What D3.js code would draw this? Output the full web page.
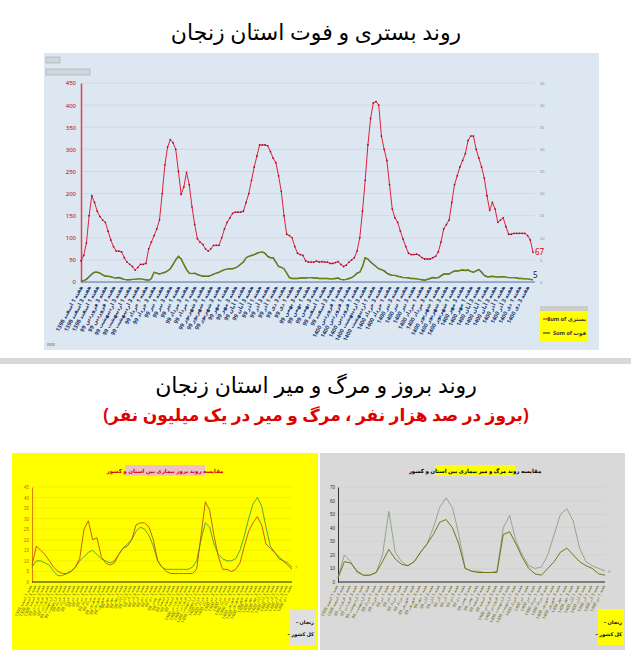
<!DOCTYPE html>
<html><head><meta charset="utf-8">
<script src="https://cdn.jsdelivr.net/npm/d3@7"></script>
<style>body{margin:0;background:#fff}svg{display:block}</style>
</head><body><svg id="c" width="631" height="657"></svg>
<script>
// ---- Top chart data (hospitalised / deaths, weekly) ----
const hosp = [48,60,88,150,195,180,160,148,140,135,
115,95,80,70,70,68,55,45,40,35,
27,33,40,40,42,75,90,105,120,140,
200,265,305,322,315,300,250,198,215,248,
220,170,130,98,90,85,75,70,75,83,
83,83,100,120,135,145,155,158,158,158,
160,180,200,230,260,285,310,310,310,308,
295,280,270,240,205,150,108,105,100,80,
65,62,60,48,45,45,45,47,45,46,
45,45,42,42,44,46,40,35,38,45,
50,55,70,100,160,230,310,370,405,408,
400,330,300,275,220,165,145,135,115,97,
80,65,62,62,63,60,55,52,52,52,
55,58,68,90,120,130,140,180,220,240,
260,275,290,320,330,330,300,280,260,235,
195,162,180,165,135,140,145,125,108,108,
110,110,110,110,110,105,95,67];
const deaths = [2,3,6,12,18,22,22,20,16,13,
13,12,10,9,10,8,6,5,5,6,
6,7,7,6,5,4,8,22,20,18,
20,22,25,30,40,50,58,52,40,28,
20,19,20,17,15,13,13,13,15,18,
20,22,25,28,29,30,30,32,35,40,
45,55,58,60,62,65,67,68,65,58,
55,55,45,35,33,30,20,10,8,8,
8,9,9,9,10,10,9,9,8,8,
8,8,7,7,8,9,6,5,6,8,
10,14,20,22,35,55,52,45,40,35,
30,28,25,20,17,15,15,13,12,10,
10,9,8,8,7,6,5,4,6,8,
10,9,10,14,18,18,18,22,25,25,
26,27,26,27,24,22,25,28,22,15,
12,12,13,12,11,12,12,11,10,10,
10,9,8,8,7,7,6,5];
const leftTicks = [0,50,100,150,200,250,300,350,400,450];
const rightTicks = [0,5,10,15,20,25,30,35,40,45];
const tickMonths = ["اسفند 1398","فروردین 99","اردیبهشت 99","خرداد 99","تیر 99","مرداد 99","شهریور 99","مهر 99","آبان 99","آذر 99","دی 99","بهمن 99","اسفند 99","فروردین 1400","اردیبهشت 1400","خرداد 1400","تیر 1400","مرداد 1400","شهریور 1400","مهر 1400","آبان 1400","آذر 1400","دی 1400"];
const tickWeeks = ["هفته 1","هفته 3"];
const legendTop = ["Sum of بستری","Sum of فوت"];

// ---- Bottom-left: incidence per 100k ----
const incZanjan = [8,17,15,13,10,7,5,4,4,5,7,11,25,29,20,21,12,9,8,9,13,16,17,20,27,28,28,26,20,10,7,5,4,4,4,4,4,4,6,22,38,34,22,12,6,6,5,6,9,17,24,28,31,27,18,16,14,11,10,8,6];
const incIran   = [7,10,10,9,8,5,3,3,4,5,7,10,12,14,15,13,11,10,9,10,13,16,18,20,24,26,25,22,17,10,7,6,6,6,6,6,6,7,10,20,28,26,18,13,11,10,10,11,15,22,30,37,40,36,26,17,14,12,10,9,7];
const incTicks = [0,5,10,15,20,25,30,35,40,45];
// ---- Bottom-right: deaths per 1M ----
const mortA = [3,20,15,7,5,5,7,20,52,22,15,12,15,22,28,40,55,62,55,35,10,8,8,7,7,8,40,49,30,20,12,10,11,20,35,50,54,45,25,15,12,10,8];
const mortB = [3,15,14,8,5,5,7,15,24,17,13,12,15,22,28,35,44,46,40,28,10,8,7,7,7,7,35,37,28,18,10,6,5,10,15,22,25,20,15,12,10,6,5];
const mortTicks = [0,10,20,30,40,50,60,70];
const legendBottom = ["زنجان","کل کشور"];

const svg = d3.select("#c");
const F = "'Noto Sans', 'DejaVu Sans', sans-serif";

svg.append("text").attr("x",316).attr("y",40).attr("text-anchor","middle").attr("font-family",F).attr("font-size",22).text("روند بستری و فوت استان زنجان");
svg.append("rect").attr("x",0).attr("y",358).attr("width",631).attr("height",6).attr("fill","#d8d8d8");
svg.append("text").attr("x",316).attr("y",393).attr("text-anchor","middle").attr("font-family",F).attr("font-size",22).text("روند بروز و مرگ و میر استان زنجان");
svg.append("text").attr("x",316).attr("y",421).attr("text-anchor","middle").attr("font-family",F).attr("font-size",17).attr("font-weight","bold").attr("fill","#e00000").text("(بروز در صد هزار نفر ، مرگ و میر در یک میلیون نفر)");

// ---------- top chart ----------
svg.append("rect").attr("x",44).attr("y",53).attr("width",555).attr("height",297).attr("fill","#dde7f2");
svg.append("rect").attr("x",46).attr("y",57).attr("width",14).attr("height",6).attr("fill","#cfd6de").attr("stroke","#999").attr("stroke-width",0.5);
svg.append("rect").attr("x",46).attr("y",69).attr("width",44).attr("height",6).attr("fill","#cfd6de").attr("stroke","#999").attr("stroke-width",0.5);
const x1 = d3.scaleLinear().domain([0,hosp.length-1]).range([81,533]);
const y1 = d3.scaleLinear().domain([0,450]).range([282,83]);
const yR = d3.scaleLinear().domain([0,45]).range([282,83]);
const g1 = svg.append("g");
g1.selectAll(".gl").data(leftTicks.slice(1)).join("line").attr("x1",81).attr("x2",535).attr("y1",d=>y1(d)).attr("y2",d=>y1(d)).attr("stroke","#c8cfd8").attr("stroke-width",0.6);
const aL = g1.append("g").attr("transform","translate(81,0)").call(d3.axisLeft(y1).tickValues(leftTicks).tickSize(0).tickPadding(5));
aL.select(".domain").attr("stroke","#e04050").attr("stroke-width",1.5);
aL.selectAll("text").attr("fill","#c00000").attr("font-size",6).attr("font-family",F);
const aR = g1.append("g").attr("transform","translate(537,0)").call(d3.axisRight(yR).tickValues(rightTicks).tickSize(0).tickPadding(3));
aR.select(".domain").remove();
aR.selectAll("text").attr("fill","#888").attr("font-size",4);
g1.append("line").attr("x1",81).attr("x2",535).attr("y1",y1(0)).attr("y2",y1(0)).attr("stroke","#4a6fa5").attr("stroke-width",1.2);
const tickIdx = d3.range(0,hosp.length,3);
const xlab = g1.append("g").attr("font-family",F).attr("font-size",5.6).attr("font-weight","bold").attr("fill","#1f3a6e");
xlab.selectAll("text").data(tickIdx).join("text")
  .attr("transform",d=>`translate(${x1(d)+2},${287}) rotate(-62)`).attr("text-anchor","end")
  .text((d,i)=>tickWeeks[i%2]+" "+tickMonths[Math.min(tickMonths.length-1,Math.floor(i*tickMonths.length/tickIdx.length))]);
const line1 = d3.line().x((d,i)=>x1(i)).y(d=>y1(d));
g1.append("path").datum(hosp).attr("d",line1).attr("fill","none").attr("stroke","#e0203a").attr("stroke-width",1);
g1.selectAll(".pr").data(hosp).join("circle").attr("cx",(d,i)=>x1(i)).attr("cy",d=>y1(d)).attr("r",0.9).attr("fill","#a0102a");
g1.append("path").datum(deaths).attr("d",line1).attr("fill","none").attr("stroke","#2d4a10").attr("stroke-width",1.4);
g1.append("path").datum(deaths).attr("d",line1).attr("fill","none").attr("stroke","#c8c800").attr("stroke-width",0.5);
g1.append("text").attr("x",535).attr("y",y1(hosp[hosp.length-1])+3).attr("font-size",8).attr("fill","#e00000").attr("font-family",F).text(hosp[hosp.length-1]);
g1.append("text").attr("x",533).attr("y",y1(deaths[deaths.length-1])-2).attr("font-size",8).attr("fill","#222").attr("font-family",F).text(deaths[deaths.length-1]);
const lg = g1.append("g");
lg.append("rect").attr("x",540).attr("y",306).attr("width",48).attr("height",36).attr("fill","#ffff00");
lg.append("rect").attr("x",540).attr("y",306).attr("width",48).attr("height",5).attr("fill","#cccccc");
lg.selectAll("line").data(legendTop).join("line").attr("x1",543).attr("x2",550).attr("y1",(d,i)=>319+i*14).attr("y2",(d,i)=>319+i*14).attr("stroke",(d,i)=>i?"#2d4a10":"#e0203a").attr("stroke-width",1.2);
lg.selectAll("text").data(legendTop).join("text").attr("x",586).attr("y",(d,i)=>321+i*14).attr("text-anchor","end").attr("font-size",5.5).attr("font-family",F).attr("font-weight","bold").attr("fill","#333").text(d=>d);
svg.append("rect").attr("x",47).attr("y",343).attr("width",8).attr("height",3).attr("fill","#b0b8c0");

// ---------- bottom charts ----------
function small(opts){
  const g = svg.append("g");
  g.append("rect").attr("x",opts.px).attr("y",453).attr("width",opts.pw).attr("height",197).attr("fill",opts.bg);
  g.append("rect").attr("x",opts.tx).attr("y",465).attr("width",80).attr("height",11).attr("fill",opts.tbg);
  g.append("text").attr("x",opts.tx+40).attr("y",473).attr("text-anchor","middle").attr("font-size",5.5).attr("font-family",F).attr("font-weight","bold").attr("fill",opts.tcol).text(opts.title);
  const x = d3.scaleLinear().domain([0,opts.a.length-1]).range([opts.x0,opts.x1]);
  const y = d3.scaleLinear().domain([0,opts.max]).range([582,487]);
  g.selectAll(".gl").data(opts.ticks.slice(1)).join("line").attr("x1",opts.x0).attr("x2",opts.x1).attr("y1",d=>y(d)).attr("y2",d=>y(d)).attr("stroke",opts.grid).attr("stroke-width",0.4);
  const ax = g.append("g").attr("transform",`translate(${opts.x0},0)`).call(d3.axisLeft(y).tickValues(opts.ticks).tickSize(0).tickPadding(3));
  ax.select(".domain").attr("stroke",opts.axc);
  ax.selectAll("text").attr("font-size",4.5).attr("fill",opts.tkc);
  g.append("line").attr("x1",opts.x0).attr("x2",opts.x1).attr("y1",582).attr("y2",582).attr("stroke","#222").attr("stroke-width",1);
  g.selectAll(".xl").data(d3.range(0,opts.a.length,1)).join("text")
    .attr("transform",d=>`translate(${x(d)},586) rotate(-65)`).attr("text-anchor","end").attr("font-size",4.3).attr("fill","#6a6a20").attr("font-family",F)
    .text((d,i)=>tickWeeks[i%2]+" "+tickMonths[Math.floor(i*tickMonths.length/opts.a.length)]);
  const ln = d3.line().x((d,i)=>x(i)).y(d=>y(d));
  g.append("path").datum(opts.b).attr("d",ln).attr("fill","none").attr("stroke",opts.cb).attr("stroke-width",0.9);
  g.append("path").datum(opts.a).attr("d",ln).attr("fill","none").attr("stroke",opts.ca).attr("stroke-width",0.9);
  g.append("text").attr("x",opts.x1+3).attr("y",y(opts.b[opts.b.length-1])+2).attr("font-size",5).attr("fill",opts.cb).text(opts.b[opts.b.length-1]);
  g.append("rect").attr("x",opts.lx).attr("y",609).attr("width",26).attr("height",36).attr("fill",opts.lbg);
  g.selectAll(".lt").data(legendBottom).join("text").attr("x",opts.lx+24).attr("y",(d,i)=>624+i*12).attr("text-anchor","end").attr("font-size",5).attr("font-family",F).attr("font-weight","bold").text(d=>"– "+d);
  return g;
}
small({px:12,pw:306,bg:"#ffff00",tx:125,tbg:"#f0c0c8",tcol:"#d00000",title:"مقایسه روند بروز بیماری بین استان و کشور",
  a:incZanjan,b:incIran,ca:"#c05010",cb:"#40a040",max:45,ticks:incTicks,x0:32,x1:292,grid:"#e0d800",axc:"#e08000",tkc:"#e06000",lx:290,lbg:"#e0e0e0"});
small({px:320,pw:305,bg:"#d9d9d9",tx:435,tbg:"#ffff00",tcol:"#000",title:"مقایسه روند مرگ و میر بیماری بین استان و کشور",
  a:mortB,b:mortA,ca:"#6b6b00",cb:"#8aa080",max:70,ticks:mortTicks,x0:338,x1:605,grid:"#c8c8c8",axc:"#333",tkc:"#333",lx:598,lbg:"#ffff00"});
</script></body></html>
